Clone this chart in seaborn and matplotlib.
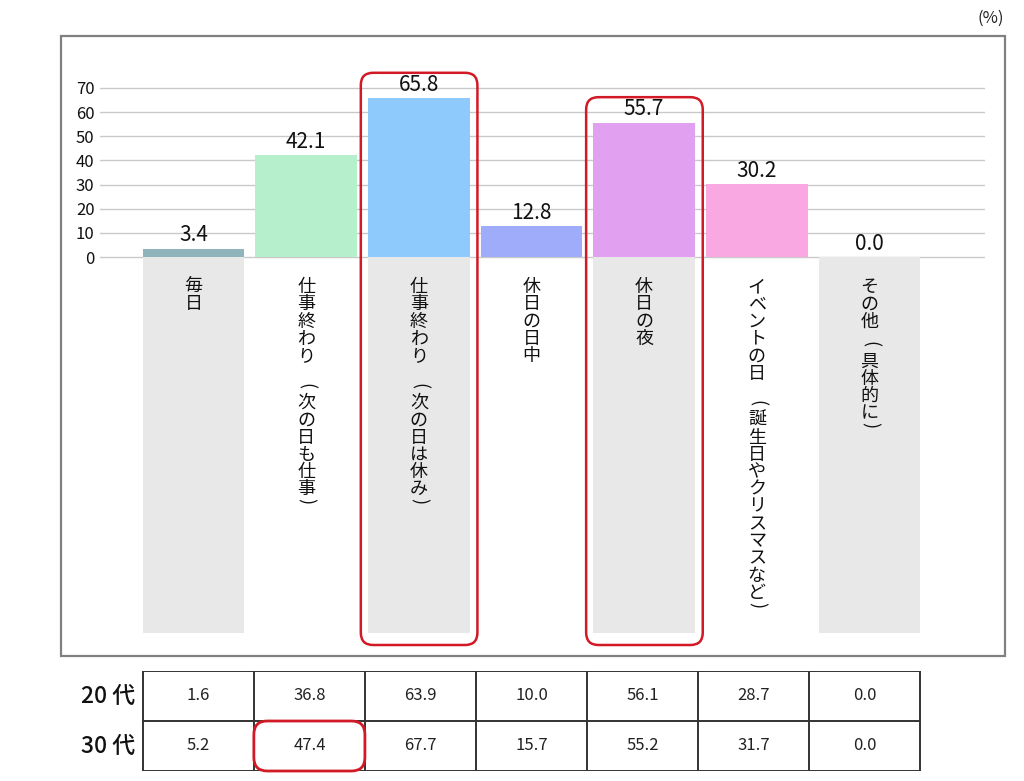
import numpy as np
import matplotlib
matplotlib.use("Agg")
import matplotlib.pyplot as plt
from matplotlib.patches import FancyBboxPatch, Rectangle
import seaborn as sns

# ---------------- data ----------------
categories = ["毎日", "仕事終わり　（次の日も仕事）", "仕事終わり　（次の日は休み）",
              "休日の日中", "休日の夜", "イベントの日　（誕生日やクリスマスなど）", "その他（具体的に）"]
values = [3.4, 42.1, 65.8, 12.8, 55.7, 30.2, 0.0]
row_labels = ["20 代", "30 代"]
values_20s = [1.6, 36.8, 63.9, 10.0, 56.1, 28.7, 0.0]
values_30s = [5.2, 47.4, 67.7, 15.7, 55.2, 31.7, 0.0]
yticks = [0, 10, 20, 30, 40, 50, 60, 70]
unit_label = "(%)"
highlight_bars = [2, 4]
highlight_cells = [(1, 1)]  # (row, col)

bar_colors = ["#8fb4bc", "#b5efcb", "#8ecafb", "#9eacfa", "#e2a0f1", "#f9a8e2", "#e0e0e0"]
panel_color = "#e8e8e8"
red = "#d11a26"

# ---------------- setup ----------------
sns.set_theme(style="white")
plt.rcParams['font.family'] = ['Noto Sans CJK JP', 'DejaVu Sans']

W, H = 1024, 781
fig = plt.figure(figsize=(W / 100, H / 100), dpi=100)

def fx(px):
    return px / W

def fy(py):
    return 1 - py / H

# outer frame
fig.patches.append(Rectangle((fx(61), fy(656)), fx(1005) - fx(61), fy(36) - fy(656),
                             transform=fig.transFigure, fill=False,
                             edgecolor="#808080", linewidth=1.6))
fig.text(fx(1004), fy(18), unit_label, ha="right", va="center", fontsize=12, color="#222")

# main axes geometry
px_per_cat = 112.67
ax_left_px, ax_right_px = 100, 985
ax_top_px, ax_bot_px = 60, 662
zero_px = 257
px_per_unit = (257 - 88) / 70.0

xlim = (-(193.5 - ax_left_px) / px_per_cat, 6 + (ax_right_px - 869.5) / px_per_cat)
ylim = (-(ax_bot_px - zero_px) / px_per_unit, (zero_px - ax_top_px) / px_per_unit)

def py2data(py):
    return (zero_px - py) / px_per_unit

ax = fig.add_axes([fx(ax_left_px), fy(ax_bot_px), fx(ax_right_px) - fx(ax_left_px),
                   fy(ax_top_px) - fy(ax_bot_px)])
ax.patch.set_alpha(0)

positions = np.arange(len(categories))
panel_depth = py2data(633)

# gray label panels (alternate categories)
ax.bar(positions[::2], panel_depth, width=0.9, color=panel_color, zorder=1, linewidth=0)

# gridlines
for t in yticks:
    ax.axhline(t, color="#c9c9c9", linewidth=1.0, zorder=0.5)

sns.barplot(x=positions, y=values, hue=positions, palette=bar_colors, width=0.9,
            legend=False, ax=ax, zorder=2, linewidth=0, saturation=1, native_scale=True)

ax.set_xlim(*xlim)
ax.set_ylim(*ylim)
ax.set_yticks(yticks)
ax.set_yticklabels([str(t) for t in yticks], fontsize=12, color="#111")
ax.set_xticks([])
ax.tick_params(axis="y", length=0, pad=4)
ax.set_xlabel("")
ax.set_ylabel("")
for s in ax.spines.values():
    s.set_visible(False)

# value labels
for i, v in enumerate(values):
    ax.text(i, v + 1.0, f"{v:.1f}", ha="center", va="bottom", fontsize=15, color="#111", zorder=3)

# vertical category labels (one glyph per line, brackets rotated)
pitch = 17.3
bracket = {"（": "(", "）": ")"}
for i, c in enumerate(categories):
    pos = None
    extra = 0.0
    for ch in c:
        if ch == "　":
            extra += 0.4
            continue
        if pos is None:
            pos = 0.0
        else:
            step = 1.0
            if ch == "（":
                step = 1.3
            elif ch == "）":
                step = 0.7
            pos += step + extra
        extra = 0.0
        yc = 287 + pos * pitch
        if ch in bracket:
            ax.text(i, py2data(yc), bracket[ch], ha="center", va="center", fontsize=13,
                    rotation=-90, color="#111", zorder=3)
        else:
            ax.text(i, py2data(yc), ch, ha="center", va="center", fontsize=13,
                    color="#111", zorder=3)

# red highlight boxes around top bars
aspect = px_per_cat / px_per_unit
for i in highlight_bars:
    y0 = py2data(645)
    y1 = values[i] + 10.5
    box = FancyBboxPatch((i - 0.515, y0), 1.035, y1 - y0,
                         boxstyle="round,pad=0,rounding_size=0.11",
                         mutation_aspect=aspect, fill=False, edgecolor=red,
                         linewidth=1.8, zorder=4, clip_on=False)
    ax.add_patch(box)

# ---------------- table ----------------
tb_top, tb_bot = 671, 771
tax = fig.add_axes([fx(ax_left_px), fy(tb_bot), fx(ax_right_px) - fx(ax_left_px),
                    fy(tb_top) - fy(tb_bot)])
tax.set_xlim(*xlim)
tax.set_ylim(0, 2)
tax.axis("off")
edges = np.linspace(-0.45, 6.45, len(categories) + 1)
for e in edges:
    tax.plot([e, e], [0, 2], color="#333", linewidth=1.4, solid_capstyle="projecting")
for yv in [0, 1, 2]:
    tax.plot([edges[0], edges[-1]], [yv, yv], color="#333", linewidth=1.4, solid_capstyle="projecting")
centers = (edges[:-1] + edges[1:]) / 2
for r, (lab, rowvals) in enumerate(zip(row_labels, [values_20s, values_30s])):
    yc = 1.5 - r
    tax.text(edges[0] - 0.07, yc, lab, ha="right", va="center", fontsize=16.5,
             fontweight="medium", color="#111")
    for c, v in zip(centers, rowvals):
        tax.text(c, yc, f"{v:.1f}", ha="center", va="center", fontsize=12, color="#222")

t_aspect = px_per_cat / ((tb_bot - tb_top) / 2)
for (r, c) in highlight_cells:
    box = FancyBboxPatch((edges[c], 1 - r), edges[c + 1] - edges[c], 1,
                         boxstyle="round,pad=0,rounding_size=0.12",
                         mutation_aspect=t_aspect, fill=False, edgecolor=red,
                         linewidth=2.0, zorder=4, clip_on=False)
    tax.add_patch(box)

fig.savefig("out.png", dpi=100)
